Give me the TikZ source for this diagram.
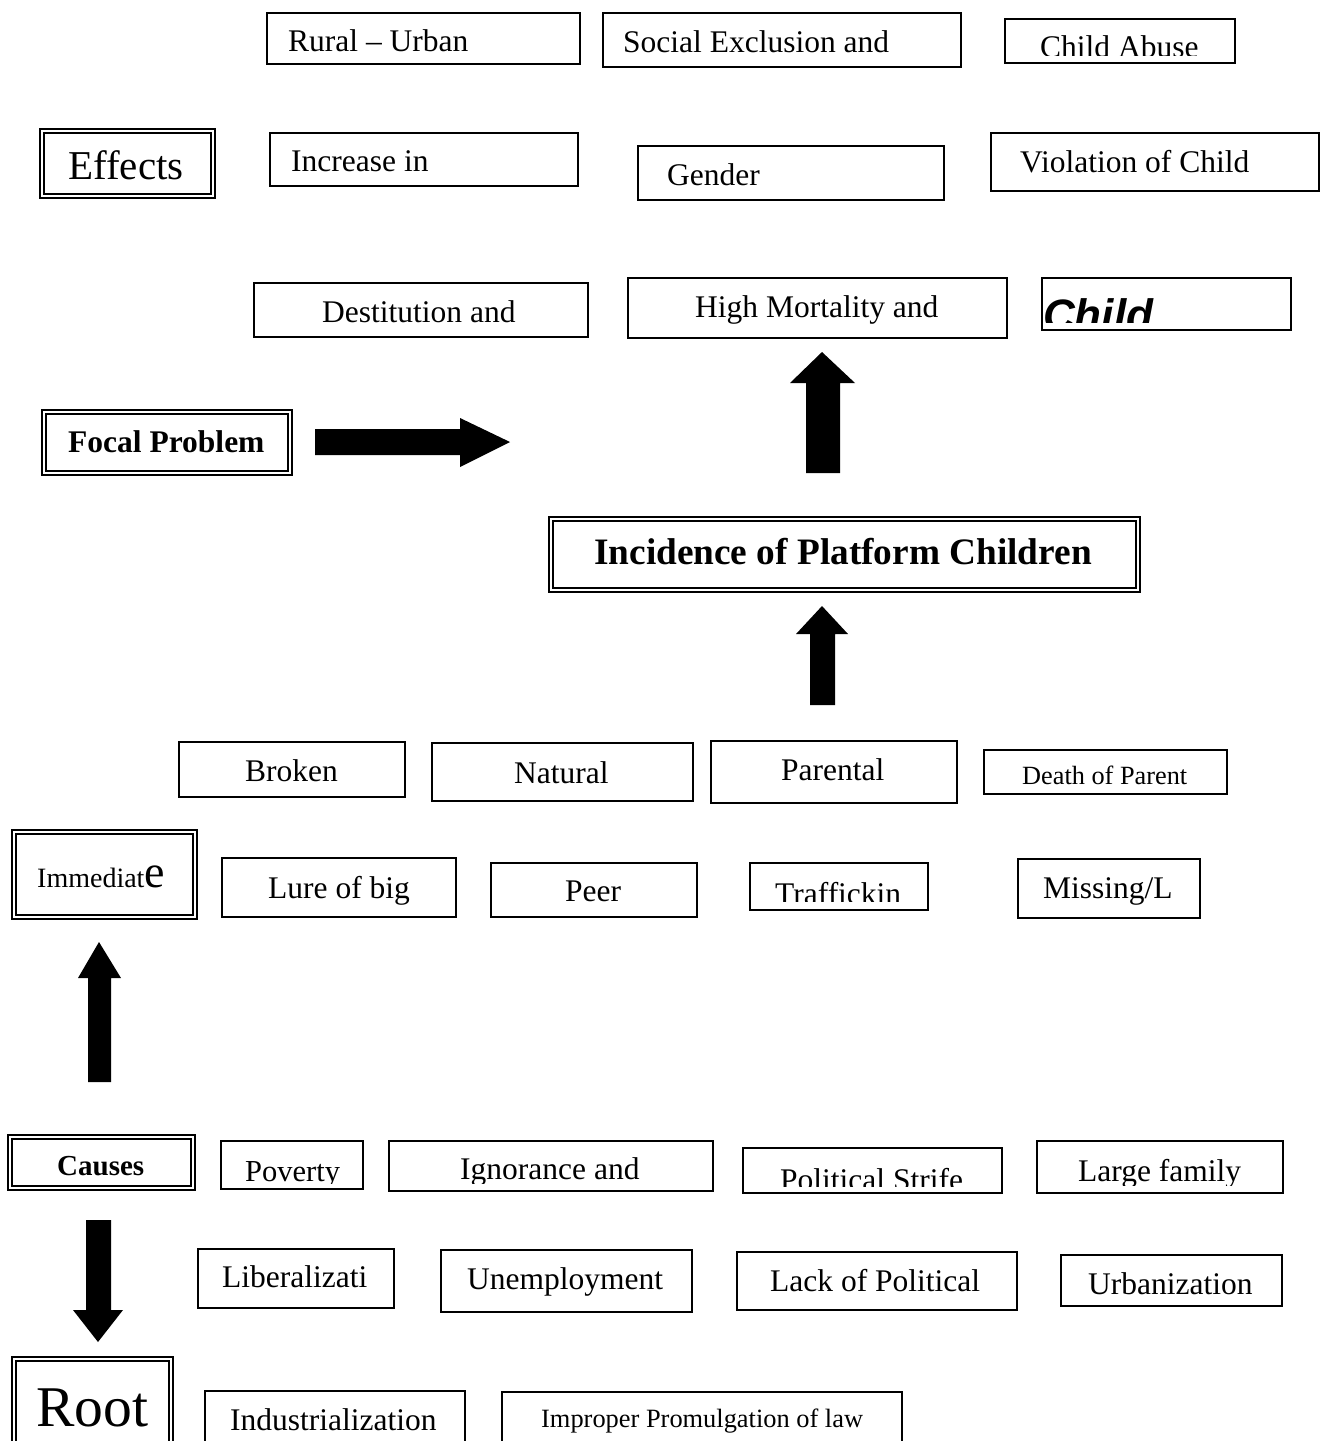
\documentclass[tikz,border=0pt]{standalone}
\usepackage{fontspec}
\setmainfont{Liberation Serif}
\setsansfont{Liberation Sans}

\begin{document}
\begin{tikzpicture}[x=1pt,y=-1pt,
  bx/.style={draw,line width=1.6pt,anchor=north west,inner sep=0pt},
  dbx/.style={draw,double,double distance=2.5pt,line width=1.8pt,anchor=north west,inner sep=0pt},
  tx/.style={anchor=base west,inner sep=0pt,font=\fontsize{31.5}{36}\selectfont},
  blk/.style={fill=black}]
  \useasboundingbox (0,0) rectangle (1323,1441);
  % effects
  \node[bx,minimum width=313,minimum height=51] (rur) at (266,12) {}; \node[tx] (rur-l) at (288,51) {Rural -- Urban};
  \node[bx,minimum width=358,minimum height=54] (soc) at (602,12) {}; \node[tx] (soc-l) at (623,52) {Social Exclusion and};
  \node[bx,minimum width=230,minimum height=44] (abu) at (1004,18) {};
  \begin{scope} \clip (1004,18) rectangle (1234,55); \node[tx] (abu-l) at (1040,57) {Child Abuse}; \end{scope}
  \node[dbx,minimum width=171,minimum height=65] (eff) at (41,130) {}; \node[tx,font=\fontsize{41}{44}\selectfont] (eff-l) at (68,179) {Effects};
  \node[bx,minimum width=308,minimum height=53] (inc) at (269,132) {}; \node[tx] (inc-l) at (291,171) {Increase in};
  \node[bx,minimum width=306,minimum height=54] (gen) at (637,145) {}; \node[tx] (gen-l) at (667,185) {Gender};
  \node[bx,minimum width=328,minimum height=58] (vio) at (990,132) {}; \node[tx] (vio-l) at (1020,172) {Violation of Child};
  \node[bx,minimum width=334,minimum height=54] (des) at (253,282) {}; \node[tx] (des-l) at (322,322) {Destitution and};
  \node[bx,minimum width=379,minimum height=60] (mor) at (627,277) {}; \node[tx] (mor-l) at (695,317) {High Mortality and};
  \node[bx,minimum width=249,minimum height=52] (chi) at (1041,277) {};
  \begin{scope} \clip (1041,277) rectangle (1290,322); \node[tx,font=\sffamily\bfseries\itshape\fontsize{44}{48}\selectfont] (chi-l) at (1043,330) {Child}; \end{scope}
  % focal problem
  \node[dbx,minimum width=246,minimum height=61] (foc) at (43,411) {}; \node[tx,font=\bfseries\fontsize{31.5}{36}\selectfont] (foc-l) at (68,452) {Focal Problem};
  \fill[blk] (315,429) -- (460,429) -- (460,418) -- (510,442) -- (460,467) -- (460,455) -- (315,455) -- cycle;
  \fill[blk] (806,473) -- (806,383) -- (790,383) -- (822,352) -- (855,383) -- (840,383) -- (840,473) -- cycle;
  \node[dbx,minimum width=587,minimum height=71] (inci) at (550,518) {}; \node[tx,font=\bfseries\fontsize{37.3}{40}\selectfont] (inci-l) at (594,564) {Incidence of Platform Children};
  \fill[blk] (810,705) -- (810,634) -- (796,634) -- (822,606) -- (848,634) -- (835,634) -- (835,705) -- cycle;
  % immediate causes
  \node[bx,minimum width=226,minimum height=55] (bro) at (178,741) {}; \node[tx] (bro-l) at (245,781) {Broken};
  \node[bx,minimum width=261,minimum height=58] (nat) at (431,742) {}; \node[tx] (nat-l) at (514,783) {Natural};
  \node[bx,minimum width=246,minimum height=62] (par) at (710,740) {}; \node[tx] (par-l) at (781,780) {Parental};
  \node[bx,minimum width=243,minimum height=44] (dea) at (983,749) {}; \node[tx,font=\fontsize{26.3}{30}\selectfont] (dea-l) at (1022,784) {Death of Parent};
  \node[dbx,minimum width=181,minimum height=85] (imm) at (13,831) {}; \node[tx] (imm-l) at (37,887) {\fontsize{28}{30}\selectfont Immediat\fontsize{46}{48}\selectfont e};
  \node[bx,minimum width=234,minimum height=59] (lur) at (221,857) {}; \node[tx] (lur-l) at (268,898) {Lure of big};
  \node[bx,minimum width=206,minimum height=54] (pee) at (490,862) {}; \node[tx] (pee-l) at (565,901) {Peer};
  \node[bx,minimum width=178,minimum height=47] (tra) at (749,862) {};
  \begin{scope} \clip (749,862) rectangle (927,901); \node[tx] (tra-l) at (775,904) {Traffickin}; \end{scope}
  \node[bx,minimum width=182,minimum height=59] (mis) at (1017,858) {}; \node[tx] (mis-l) at (1043,898) {Missing/L};
  \fill[blk] (88,1082) -- (88,978) -- (78,978) -- (99,942) -- (121,978) -- (111,978) -- (111,1082) -- cycle;
  % root causes
  \node[dbx,minimum width=183,minimum height=51] (cau) at (9,1136) {}; \node[tx,font=\bfseries\fontsize{29}{32}\selectfont] (cau-l) at (57,1175) {Causes};
  \node[bx,minimum width=142,minimum height=48] (pov) at (220,1140) {};
  \begin{scope} \clip (220,1140) rectangle (362,1183); \node[tx,font=\fontsize{30.5}{34}\selectfont] (pov-l) at (245,1181) {Poverty}; \end{scope}
  \node[bx,minimum width=324,minimum height=50] (ign) at (388,1140) {};
  \begin{scope} \clip (388,1140) rectangle (712,1183); \node[tx] (ign-l) at (460,1179) {Ignorance and}; \end{scope}
  \node[bx,minimum width=259,minimum height=45] (pol) at (742,1147) {};
  \begin{scope} \clip (742,1147) rectangle (1001,1186); \node[tx] (pol-l) at (780,1190) {Political Strife}; \end{scope}
  \node[bx,minimum width=246,minimum height=52] (lar) at (1036,1140) {};
  \begin{scope} \clip (1036,1140) rectangle (1282,1185); \node[tx] (lar-l) at (1078,1181) {Large family}; \end{scope}
  \fill[blk] (86,1220) -- (111,1220) -- (111,1310) -- (123,1310) -- (98,1342) -- (73,1310) -- (86,1310) -- cycle;
  \node[bx,minimum width=196,minimum height=59] (lib) at (197,1248) {}; \node[tx] (lib-l) at (222,1287) {Liberalizati};
  \node[bx,minimum width=251,minimum height=62] (une) at (440,1249) {}; \node[tx] (une-l) at (467,1289) {Unemployment};
  \node[bx,minimum width=280,minimum height=58] (lac) at (736,1251) {}; \node[tx] (lac-l) at (770,1291) {Lack of Political};
  \node[bx,minimum width=221,minimum height=51] (urb) at (1060,1254) {}; \node[tx] (urb-l) at (1088,1294) {Urbanization};
  \node[dbx,minimum width=157,minimum height=120] (roo) at (13,1358) {}; \node[tx,font=\fontsize{57.6}{60}\selectfont] (roo-l) at (36,1426) {Root};
  \node[bx,minimum width=260,minimum height=80] (ind) at (204,1390) {}; \node[tx] (ind-l) at (230,1430) {Industrialization};
  \node[bx,minimum width=400,minimum height=80] (imp) at (501,1391) {}; \node[tx,font=\fontsize{26.4}{30}\selectfont] (imp-l) at (541,1427) {Improper Promulgation of law};
\end{tikzpicture}
\end{document}
